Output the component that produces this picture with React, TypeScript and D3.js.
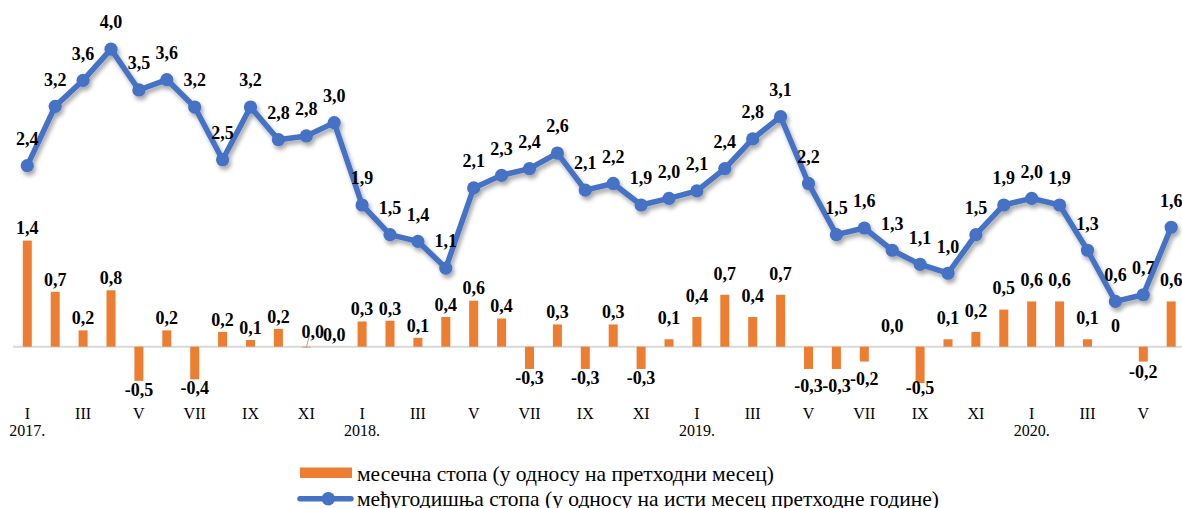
import React from "react";
import * as d3 from "d3";

// ---- data ----
const monthRoman = ["I", "II", "III", "IV", "V", "VI", "VII", "VIII", "IX", "X", "XI", "XII"];
const years = ["2017.", "2018.", "2019.", "2020."];
const monthCount = 42;

// monthly rate (vs previous month), %
const monthlyRate = [
  1.43, 0.74, 0.22, 0.76, -0.46, 0.22, -0.44, 0.2, 0.09, 0.24, -0.01, 0.0,
  0.34, 0.35, 0.12, 0.4, 0.62, 0.38, -0.3, 0.3, -0.3, 0.3, -0.3, 0.1,
  0.4, 0.7, 0.4, 0.7, -0.3, -0.3, -0.2, 0.0, -0.49, 0.1, 0.2, 0.5,
  0.61, 0.61, 0.1, 0.0, -0.2, 0.61,
];

// year-on-year rate, %
const yoyRate = [
  2.44, 3.24, 3.59, 4.01, 3.46, 3.6, 3.23, 2.52, 3.23, 2.79, 2.84, 3.02,
  1.91, 1.51, 1.42, 1.06, 2.14, 2.31, 2.4, 2.61, 2.11, 2.2, 1.91, 2.0,
  2.1, 2.4, 2.8, 3.1, 2.2, 1.51, 1.6, 1.3, 1.11, 0.99, 1.51, 1.91,
  2.0, 1.91, 1.3, 0.61, 0.7, 1.61,
];

const barLabelOverrides: Record<number, string> = { 39: "0" };

const legendLabels = [
  "месечна стопа (у односу на претходни месец)",
  "међугодишња стопа (у односу на исти месец претходне године)",
];

// ---- styles ----
const W = 1182;
const H = 508;
const ORANGE = "#ED7D31";
const BLUE = "#4472C4";
const FONT = "'Liberation Serif', 'Times New Roman', serif";

const fmt = (v: number) => {
  let s = v.toFixed(1);
  if (s === "-0.0") s = "0.0";
  return s.replace(".", ",");
};

export default function App() {
  const idx = d3.range(monthCount);
  const x = d3.scalePoint<number>().domain(idx).range([27.3, 1171.2]);
  const y = d3.scaleLinear().domain([0, 4]).range([346.7, 346.7 - 4 * 74.2]);

  const line = d3
    .line<number>()
    .x((_, i) => x(i)!)
    .y((d) => y(d));

  const barW = 9;

  const barLabelY = (v: number, i: number) => {
    if (v >= 0 || fmt(v) === "0,0") {
      const top = y(Math.max(v, 0));
      const gap = i >= 23 ? 21.5 : 12.5;
      return top - gap;
    }
    const bottom = y(v);
    let gap = i >= 24 ? 17 : 8.7;
    if (i === 32) gap = 5;
    if (i === 40) gap = 10;
    return bottom + gap;
  };

  return (
    <svg
      width={W}
      height={H}
      style={{ position: "absolute", left: 0, top: 0, background: "#fff" }}
      fontFamily={FONT}
    >
      <defs>
        <filter id="shadow" x="-10%" y="-10%" width="120%" height="130%">
          <feDropShadow dx="2" dy="3.5" stdDeviation="2.2" floodColor="#000" floodOpacity="0.35" />
        </filter>
      </defs>
      <rect width={W} height={H} fill="#fff" />

      {/* zero axis */}
      <line x1={13} x2={W} y1={y(0)} y2={y(0)} stroke="#d9d9d9" strokeWidth={2} />

      {/* bars */}
      <g>
        {monthlyRate.map((v, i) => (
          <rect
            key={i}
            x={x(i)! - barW / 2}
            y={Math.min(y(v), y(0))}
            width={barW}
            height={Math.abs(y(v) - y(0))}
            fill={ORANGE}
          />
        ))}
      </g>

      {/* leader line for Nov 2017 label */}
      <line x1={x(10)! + 3} y1={336} x2={x(10)!} y2={347.5} stroke="#a6a6a6" strokeWidth={1} />

      {/* bar labels */}
      <g fontWeight="bold" fontSize={18} textAnchor="middle">
        {monthlyRate.map((v, i) => (
          <text
            key={i}
            x={x(i)! + (i === 10 ? 6.5 : 0)}
            y={barLabelY(v, i) + (i === 10 ? -3 : 0)}
            dy="0.35em"
            fill="#000"
          >
            {barLabelOverrides[i] ?? fmt(v)}
          </text>
        ))}
      </g>

      {/* yoy line */}
      <g filter="url(#shadow)">
        <path d={line(yoyRate) || ""} fill="none" stroke={BLUE} strokeWidth={5.5} strokeLinejoin="round" />
        {yoyRate.map((v, i) => (
          <circle key={i} cx={x(i)!} cy={y(v)} r={6.6} fill={BLUE} />
        ))}
      </g>

      {/* line labels */}
      <g fontWeight="bold" fontSize={18} textAnchor="middle">
        {yoyRate.map((v, i) => (
          <text key={i} x={x(i)!} y={y(v) - 27} dy="0.35em" fill="#000">
            {fmt(v)}
          </text>
        ))}
      </g>

      {/* x axis labels */}
      <g fontSize={16} textAnchor="middle" fill="#000">
        {idx
          .filter((i) => i % 2 === 0)
          .map((i) => (
            <text key={i} x={x(i)!} y={413.3} dy="0.35em">
              {monthRoman[i % 12]}
            </text>
          ))}
        {years.map((yr, k) => (
          <text key={yr} x={x(k * 12)!} y={430} dy="0.35em">
            {yr}
          </text>
        ))}
      </g>

      {/* legend */}
      <g fontSize={21.5} fill="#000">
        <rect x={300} y={467.5} width={52} height={10.5} fill={ORANGE} />
        <text x={357} y={480.5}>
          {legendLabels[0]}
        </text>
        <line x1={300} x2={351} y1={498.7} y2={498.7} stroke={BLUE} strokeWidth={5.5} strokeLinecap="round" />
        <circle cx={328.3} cy={498.7} r={6.8} fill={BLUE} />
        <text x={357} y={505.5}>
          {legendLabels[1]}
        </text>
      </g>
    </svg>
  );
}
